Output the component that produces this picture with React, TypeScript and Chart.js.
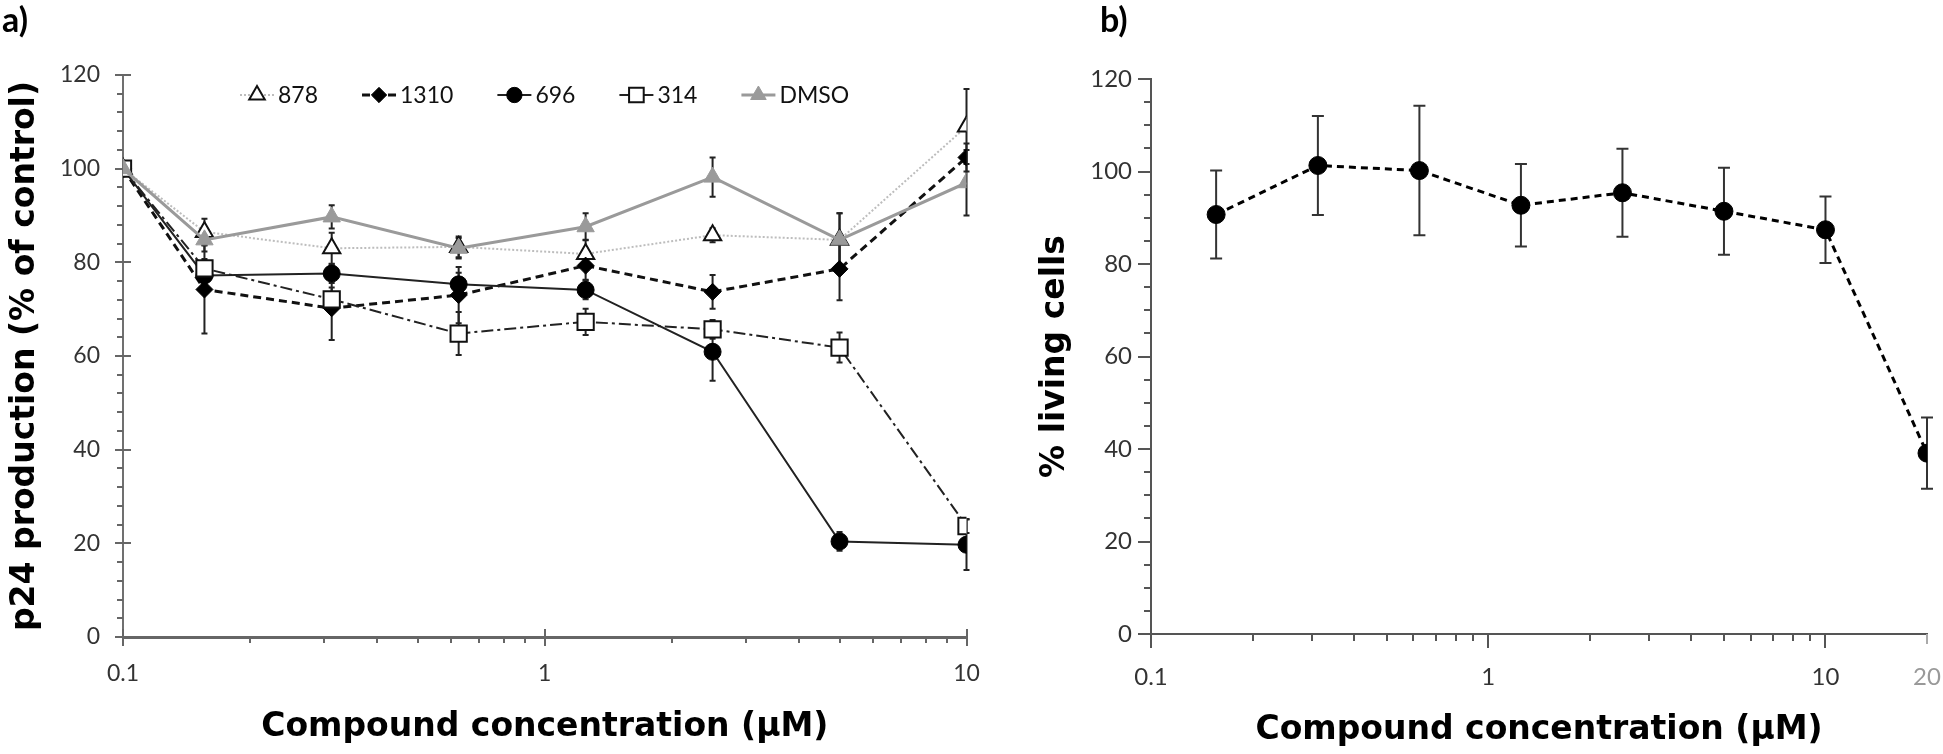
import React, { useEffect, useRef } from 'react';
import { Chart, registerables } from 'chart.js';

Chart.register(...registerables);

// ---------- Data: panel a ----------
const X_A = [0.1, 0.156, 0.3125, 0.625, 1.25, 2.5, 5, 10];
const S878 = [100, 86.5, 83.0, 83.3, 81.8, 85.8, 84.8, 109.0];
const E878 = [0, 2.8, 3.3, 2.2, 3.0, 1.5, 5.7, 8.0];
const S1310 = [100, 74.2, 70.2, 73.0, 79.3, 73.7, 78.6, 102.4];
const E1310 = [0, 9.4, 6.8, 6.0, 3.0, 3.6, 6.7, 3.0];
const S696 = [100, 77.2, 77.6, 75.3, 74.1, 60.9, 20.4, 19.7];
const E696 = [0, 2.0, 2.0, 2.5, 2.0, 6.2, 2.0, 5.4];
const S314 = [100, 78.7, 72.1, 64.8, 67.3, 65.7, 61.8, 23.7];
const E314 = [0, 2.0, 2.5, 4.6, 2.8, 2.0, 3.2, 1.5];
const SDMSO = [100, 84.8, 89.7, 83.0, 87.6, 98.2, 84.8, 97.0];
const EDMSO = [0, 2.5, 2.5, 2.2, 2.9, 4.2, 5.7, 7.0];

// ---------- Data: panel b ----------
const X_B = [0.156, 0.3125, 0.625, 1.25, 2.5, 5, 10, 20];
const LIVING = [90.7, 101.3, 100.2, 92.7, 95.4, 91.4, 87.4, 39.1];
const LIVING_ERR = [9.5, 10.7, 14.0, 8.9, 9.5, 9.4, 7.2, 7.7];

// ---------- Ticks ----------
const X_TICKS_A = [0.1, 1, 10];
const X_LABELS_A = ['0.1', '1', '10'];
const X_TICKS_B = [0.1, 1, 10, 20];
const X_LABELS_B = ['0.1', '1', '10', '20'];
const X_MINOR = [0.2, 0.3, 0.4, 0.5, 0.6, 0.7, 0.8, 0.9, 2, 3, 4, 5, 6, 7, 8, 9];
const Y_MAJOR = [0, 20, 40, 60, 80, 100, 120];
const Y_MINOR_A = [4, 8, 12, 16, 24, 28, 32, 36, 44, 48, 52, 56, 64, 68, 72, 76, 84, 88, 92, 96, 104, 108, 112, 116];
const Y_MINOR_B = [5, 10, 15, 25, 30, 35, 45, 50, 55, 65, 70, 75, 85, 90, 95, 105, 110, 115];

const TICK_FONT = 'Lato';
const TITLE_FONT = 'DejaVu Sans';

function pts(xs: number[], ys: number[]) {
  return xs.map((x, i) => ({ x, y: ys[i] }));
}

function drawMarker(ctx: CanvasRenderingContext2D, style: string, x: number, y: number, r: number, fill: string, stroke: string, lw: number) {
  ctx.beginPath();
  if (style === 'circle') {
    ctx.arc(x, y, r, 0, Math.PI * 2);
  } else if (style === 'rect') {
    const s = r * Math.SQRT1_2;
    ctx.rect(x - s, y - s, 2 * s, 2 * s);
  } else if (style === 'rectRot') {
    ctx.moveTo(x - r, y);
    ctx.lineTo(x, y - r);
    ctx.lineTo(x + r, y);
    ctx.lineTo(x, y + r);
    ctx.closePath();
  } else {
    for (let k = 0; k < 3; k++) {
      const a = (k * 2 * Math.PI) / 3;
      const px = x + Math.sin(a) * r;
      const py = y - Math.cos(a) * r;
      if (k === 0) ctx.moveTo(px, py);
      else ctx.lineTo(px, py);
    }
    ctx.closePath();
  }
  ctx.fillStyle = fill;
  ctx.fill();
  if (lw) {
    ctx.lineWidth = lw;
    ctx.strokeStyle = stroke;
    ctx.stroke();
  }
}

type TickCfg = {
  color: string;
  width: number;
  xMajor: number[];
  xMajorUp: number;
  xMajorDown: number;
  xMinor: number[];
  xMinorDown: number;
  yMajor: number[];
  yMajorLeft: number;
  yMajorRight: number;
  yMinor: number[];
  yMinorLeft: number;
  special?: { value: number; color: string; down: number };
};

function tickPlugin(cfg: TickCfg) {
  return {
    id: 'tickMarks',
    beforeDatasetsDraw(chart: any) {
      const { ctx, chartArea } = chart;
      const xs = chart.scales.x;
      const ys = chart.scales.y;
      const ax = chartArea.left;
      const ay = chartArea.bottom;
      ctx.save();
      ctx.lineWidth = cfg.width;
      const seg = (x1: number, y1: number, x2: number, y2: number, c: string) => {
        ctx.strokeStyle = c;
        ctx.beginPath();
        ctx.moveTo(x1, y1);
        ctx.lineTo(x2, y2);
        ctx.stroke();
      };
      cfg.xMajor.forEach((v) => {
        const p = Math.round(xs.getPixelForValue(v));
        seg(p, ay - cfg.xMajorUp, p, ay + cfg.xMajorDown, cfg.color);
      });
      cfg.xMinor.forEach((v) => {
        const p = Math.round(xs.getPixelForValue(v));
        seg(p, ay, p, ay + cfg.xMinorDown, cfg.color);
      });
      if (cfg.special) {
        const p = Math.round(xs.getPixelForValue(cfg.special.value));
        seg(p, ay, p, ay + cfg.special.down, cfg.special.color);
      }
      cfg.yMajor.forEach((v) => {
        const p = Math.round(ys.getPixelForValue(v));
        seg(ax - cfg.yMajorLeft, p, ax + cfg.yMajorRight, p, cfg.color);
      });
      cfg.yMinor.forEach((v) => {
        const p = Math.round(ys.getPixelForValue(v));
        seg(ax - cfg.yMinorLeft, p, ax, p, cfg.color);
      });
      ctx.restore();
    },
  };
}

function errorBarPlugin(sets: { index: number; err: number[] }[], color: string, width: number, cap: number) {
  return {
    id: 'errorBars',
    beforeDatasetsDraw(chart: any) {
      const { ctx } = chart;
      const xs = chart.scales.x;
      const ys = chart.scales.y;
      ctx.save();
      ctx.strokeStyle = color;
      ctx.lineWidth = width;
      sets.forEach((set) => {
        const ds = chart.data.datasets[set.index];
        ds.data.forEach((pt: any, i: number) => {
          const e = set.err[i];
          if (!e) return;
          const px = xs.getPixelForValue(pt.x);
          const top = ys.getPixelForValue(pt.y + e);
          const bot = ys.getPixelForValue(pt.y - e);
          ctx.beginPath();
          ctx.moveTo(px, top);
          ctx.lineTo(px, bot);
          ctx.moveTo(px - cap, top);
          ctx.lineTo(px + cap, top);
          ctx.moveTo(px - cap, bot);
          ctx.lineTo(px + cap, bot);
          ctx.stroke();
        });
      });
      ctx.restore();
    },
  };
}

function legendPlugin(startX: number, y: number) {
  return {
    id: 'lineLegend',
    afterDraw(chart: any) {
      const ctx = chart.ctx as CanvasRenderingContext2D;
      let x = startX;
      ctx.save();
      ctx.font = `23px ${TICK_FONT}`;
      ctx.textBaseline = 'middle';
      chart.data.datasets.forEach((ds: any) => {
        ctx.strokeStyle = ds.borderColor;
        ctx.lineWidth = ds.borderWidth;
        ctx.setLineDash(ds.borderDash || []);
        ctx.beginPath();
        ctx.moveTo(x, y);
        ctx.lineTo(x + 34, y);
        ctx.stroke();
        ctx.setLineDash([]);
        drawMarker(ctx, ds.pointStyle, x + 17, y, ds.pointRadius * 0.9, ds.pointBackgroundColor, ds.pointBorderColor, ds.pointBorderWidth);
        ctx.fillStyle = '#111';
        ctx.fillText(ds.label, x + 38, y + 1);
        x += 38 + ctx.measureText(ds.label).width + 44;
      });
      ctx.restore();
    },
  };
}

function makeChartA(canvas: HTMLCanvasElement) {
  const datasets = [
    {
      label: '878', data: pts(X_A, S878), borderColor: '#bdbdbd', borderWidth: 2, borderDash: [2, 2],
      pointStyle: 'triangle', pointRadius: 10, pointBackgroundColor: '#ffffff', pointBorderColor: '#111111', pointBorderWidth: 2, order: 4,
    },
    {
      label: '1310', data: pts(X_A, S1310), borderColor: '#111111', borderWidth: 3, borderDash: [8, 5],
      pointStyle: 'rectRot', pointRadius: 8.5, pointBackgroundColor: '#000000', pointBorderColor: '#000000', pointBorderWidth: 1, order: 3,
    },
    {
      label: '696', data: pts(X_A, S696), borderColor: '#222222', borderWidth: 2, borderDash: [],
      pointStyle: 'circle', pointRadius: 8.5, pointBackgroundColor: '#000000', pointBorderColor: '#000000', pointBorderWidth: 1, order: 2,
    },
    {
      label: '314', data: pts(X_A, S314), borderColor: '#222222', borderWidth: 2, borderDash: [12, 4, 3, 4],
      pointStyle: 'rect', pointRadius: 11.5, pointBackgroundColor: '#ffffff', pointBorderColor: '#111111', pointBorderWidth: 2, order: 1,
    },
    {
      label: 'DMSO', data: pts(X_A, SDMSO), borderColor: '#9a9a9a', borderWidth: 3, borderDash: [],
      pointStyle: 'triangle', pointRadius: 10, pointBackgroundColor: '#9a9a9a', pointBorderColor: '#9a9a9a', pointBorderWidth: 1, order: 0,
    },
  ];
  return new Chart(canvas, {
    type: 'line',
    data: { datasets } as any,
    options: {
      responsive: false,
      animation: false,
      events: [],
      layout: { padding: { left: 0, top: 75, right: 13, bottom: 0 } },
      plugins: { legend: { display: false }, tooltip: { enabled: false } },
      elements: { line: { tension: 0 } },
      scales: {
        x: {
          type: 'logarithmic',
          min: 0.1,
          max: 10,
          afterBuildTicks: (s: any) => { s.ticks = X_TICKS_A.map((v) => ({ value: v })); },
          afterFit: (s: any) => { s.height = 117; s.paddingLeft = 0; s.paddingRight = 0; },
          grid: { display: false, drawTicks: false },
          border: { display: true, color: '#666666', width: 3 },
          ticks: {
            autoSkip: false, maxRotation: 0, minRotation: 0, padding: 23,
            font: { family: TICK_FONT, size: 23 }, color: '#333333',
            callback: (_v: any, i: number) => X_LABELS_A[i],
          },
          title: {
            display: true, text: 'Compound concentration (µM)', color: '#000000',
            font: { family: TITLE_FONT, size: 33, weight: 'bold' }, padding: { top: 0, bottom: 7 },
          },
        },
        y: {
          min: 0,
          max: 120,
          afterBuildTicks: (s: any) => { s.ticks = Y_MAJOR.map((v) => ({ value: v })); },
          afterFit: (s: any) => { s.width = 123; s.paddingTop = 0; s.paddingBottom = 0; },
          grid: { display: false, drawTicks: false },
          border: { display: true, color: '#707070', width: 2 },
          ticks: { padding: 23, font: { family: TICK_FONT, size: 23 }, color: '#333333' },
          title: {
            display: true, text: 'p24 production (% of control)', color: '#000000',
            font: { family: TITLE_FONT, size: 33, weight: 'bold' }, padding: { top: 6, bottom: 0 },
          },
        },
      },
    } as any,
    plugins: [
      tickPlugin({
        color: '#666666', width: 2,
        xMajor: X_TICKS_A, xMajorUp: 8, xMajorDown: 9, xMinor: X_MINOR, xMinorDown: 6,
        yMajor: Y_MAJOR, yMajorLeft: 8, yMajorRight: 8, yMinor: Y_MINOR_A, yMinorLeft: 6,
      }),
      errorBarPlugin(
        [
          { index: 0, err: E878 },
          { index: 1, err: E1310 },
          { index: 2, err: E696 },
          { index: 3, err: E314 },
          { index: 4, err: EDMSO },
        ],
        '#222222', 2, 3,
      ),
      legendPlugin(240, 95),
    ] as any,
  });
}

function makeChartB(canvas: HTMLCanvasElement) {
  return new Chart(canvas, {
    type: 'line',
    data: {
      datasets: [
        {
          label: '% living cells', data: pts(X_B, LIVING), borderColor: '#000000', borderWidth: 3, borderDash: [7, 5],
          pointStyle: 'circle', pointRadius: 9, pointBackgroundColor: '#000000', pointBorderColor: '#000000', pointBorderWidth: 1,
        },
      ],
    } as any,
    options: {
      responsive: false,
      animation: false,
      events: [],
      layout: { padding: { left: 0, top: 79, right: 16, bottom: 0 } },
      plugins: { legend: { display: false }, tooltip: { enabled: false } },
      elements: { line: { tension: 0 } },
      scales: {
        x: {
          type: 'logarithmic',
          min: 0.1,
          max: 20,
          afterBuildTicks: (s: any) => { s.ticks = X_TICKS_B.map((v) => ({ value: v })); },
          afterFit: (s: any) => { s.height = 120; s.paddingLeft = 0; s.paddingRight = 0; },
          grid: { display: false, drawTicks: false },
          border: { display: true, color: '#555555', width: 2 },
          ticks: {
            autoSkip: false, maxRotation: 0, minRotation: 0, padding: 29,
            font: { family: TICK_FONT, size: 24 },
            color: (c: any) => (c.tick && c.tick.value === 20 ? '#999999' : '#333333'),
            callback: (_v: any, i: number) => X_LABELS_B[i],
          },
          title: {
            display: true, text: 'Compound concentration (µM)', color: '#000000',
            font: { family: TITLE_FONT, size: 33, weight: 'bold' }, padding: { top: 0, bottom: 4 },
          },
        },
        y: {
          min: 0,
          max: 120,
          afterBuildTicks: (s: any) => { s.ticks = Y_MAJOR.map((v) => ({ value: v })); },
          afterFit: (s: any) => { s.width = 171; s.paddingTop = 0; s.paddingBottom = 0; },
          grid: { display: false, drawTicks: false },
          border: { display: true, color: '#555555', width: 2 },
          ticks: { padding: 19, font: { family: TICK_FONT, size: 24 }, color: '#333333' },
          title: {
            display: true, text: '% living cells', color: '#000000',
            font: { family: TITLE_FONT, size: 33, weight: 'bold' }, padding: { top: 56, bottom: 0 },
          },
        },
      },
    } as any,
    plugins: [
      tickPlugin({
        color: '#555555', width: 2,
        xMajor: [0.1, 1, 10], xMajorUp: 0, xMajorDown: 14, xMinor: X_MINOR, xMinorDown: 7,
        yMajor: Y_MAJOR, yMajorLeft: 13, yMajorRight: 0, yMinor: Y_MINOR_B, yMinorLeft: 7,
        special: { value: 20, color: '#aaaaaa', down: 10 },
      }),
      errorBarPlugin([{ index: 0, err: LIVING_ERR }], '#333333', 2, 6),
    ] as any,
  });
}

export default function App() {
  const refA = useRef<HTMLCanvasElement | null>(null);
  const refB = useRef<HTMLCanvasElement | null>(null);

  useEffect(() => {
    const a = refA.current ? makeChartA(refA.current) : null;
    const b = refB.current ? makeChartB(refB.current) : null;
    return () => {
      if (a) a.destroy();
      if (b) b.destroy();
    };
  }, []);

  const panelLabel: React.CSSProperties = {
    position: 'absolute', top: -3, font: `bold 34px ${TICK_FONT}`, color: '#000', lineHeight: '44px',
  };

  return (
    <div style={{ position: 'fixed', left: 0, top: 0, width: 1943, height: 754, background: '#ffffff', overflow: 'hidden' }}>
      <canvas ref={refA} width={980} height={754} style={{ position: 'absolute', left: 0, top: 0 }} />
      <canvas ref={refB} width={963} height={754} style={{ position: 'absolute', left: 980, top: 0 }} />
      <div style={{ ...panelLabel, left: 2 }}>a)</div>
      <div style={{ ...panelLabel, left: 1100 }}>b)</div>
    </div>
  );
}
